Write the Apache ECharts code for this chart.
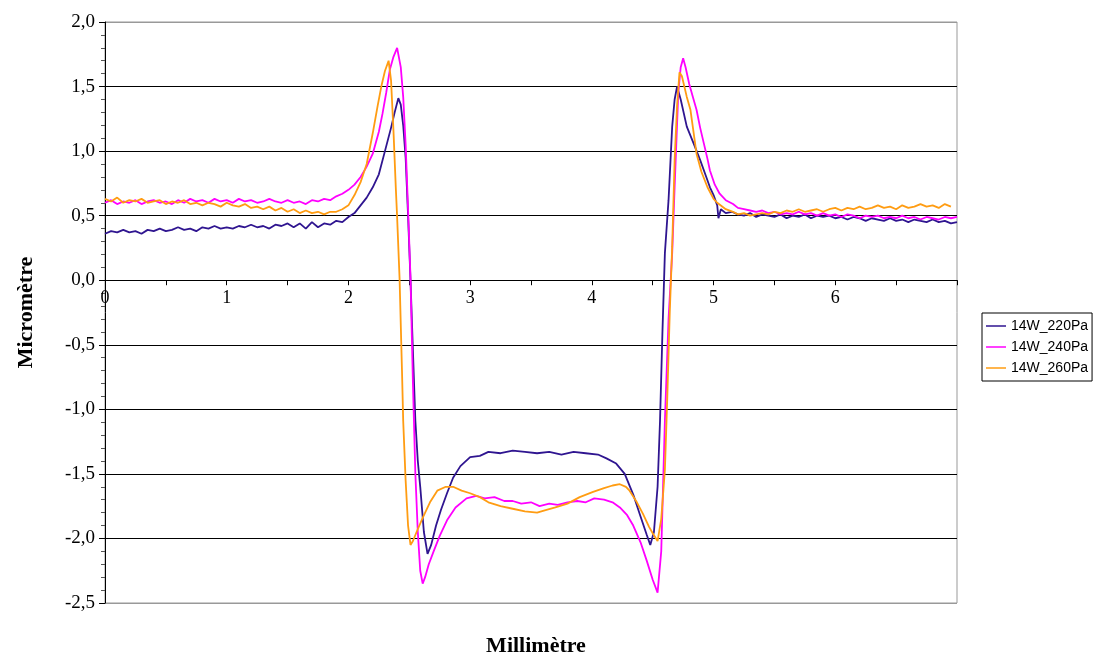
<!DOCTYPE html>
<html>
<head>
<meta charset="utf-8">
<script src="https://cdn.jsdelivr.net/npm/echarts@6/dist/echarts.min.js"></script>
<style>html,body{margin:0;padding:0;background:#fff}#c{width:1100px;height:658px}</style>
</head>
<body>
<div id="c"></div>
<script>
const seriesNames = ['14W_220Pa', '14W_240Pa', '14W_260Pa'];
const yTicks = [-2.5, -2.0, -1.5, -1.0, -0.5, 0, 0.5, 1.0, 1.5, 2.0];

const x220 = [0,0.05,0.1,0.15,0.2,0.25,0.3,0.35,0.4,0.45,0.5,0.55,0.6,0.65,0.7,0.75,0.8,0.85,0.9,0.95,1.0,1.05,1.1,1.15,1.2,1.25,1.3,1.35,1.4,1.45,1.5,1.55,1.6,1.65,1.7,1.75,1.8,1.85,1.9,1.95,2.0,2.05,2.1,2.15,2.2,2.25,2.3,2.35,2.38,2.41,2.43,2.45,2.47,2.49,2.51,2.53,2.55,2.57,2.59,2.62,2.65,2.68,2.72,2.76,2.81,2.86,2.92,3.0,3.08,3.15,3.25,3.35,3.45,3.55,3.65,3.75,3.85,3.95,4.05,4.12,4.2,4.27,4.34,4.4,4.45,4.48,4.51,4.54,4.56,4.58,4.6,4.63,4.66,4.68,4.7,4.73,4.78,4.84,4.89,4.94,4.97,5.0,5.03,5.04,5.06,5.1,5.15,5.2,5.25,5.3,5.35,5.4,5.45,5.5,5.55,5.6,5.65,5.7,5.75,5.8,5.85,5.9,5.95,6.0,6.05,6.1,6.15,6.2,6.25,6.3,6.35,6.4,6.45,6.5,6.55,6.6,6.65,6.7,6.75,6.8,6.85,6.9,6.95,7.0];
const y220 = [0.36,0.38,0.37,0.39,0.37,0.38,0.36,0.39,0.38,0.40,0.38,0.39,0.41,0.39,0.40,0.38,0.41,0.40,0.42,0.40,0.41,0.40,0.42,0.41,0.43,0.41,0.42,0.40,0.43,0.42,0.44,0.41,0.44,0.40,0.45,0.41,0.44,0.43,0.46,0.45,0.49,0.52,0.58,0.64,0.72,0.82,1.00,1.18,1.30,1.41,1.36,1.20,0.95,0.50,0.0,-0.55,-1.09,-1.40,-1.60,-1.95,-2.12,-2.05,-1.90,-1.78,-1.65,-1.53,-1.44,-1.37,-1.36,-1.33,-1.34,-1.32,-1.33,-1.34,-1.33,-1.35,-1.33,-1.34,-1.35,-1.38,-1.42,-1.50,-1.66,-1.83,-1.97,-2.05,-1.95,-1.60,-1.09,-0.40,0.21,0.62,1.19,1.40,1.50,1.40,1.19,1.05,0.93,0.80,0.72,0.66,0.58,0.48,0.55,0.52,0.53,0.51,0.50,0.52,0.49,0.51,0.50,0.49,0.51,0.48,0.50,0.49,0.51,0.48,0.50,0.49,0.50,0.48,0.49,0.47,0.49,0.48,0.46,0.48,0.47,0.46,0.48,0.46,0.47,0.45,0.47,0.46,0.45,0.47,0.45,0.46,0.44,0.45];

const x240 = [0,0.05,0.1,0.15,0.2,0.25,0.3,0.35,0.4,0.45,0.5,0.55,0.6,0.65,0.7,0.75,0.8,0.85,0.9,0.95,1.0,1.05,1.1,1.15,1.2,1.25,1.3,1.35,1.4,1.45,1.5,1.55,1.6,1.65,1.7,1.75,1.8,1.85,1.9,1.95,2.0,2.05,2.1,2.15,2.2,2.25,2.28,2.31,2.34,2.37,2.4,2.43,2.45,2.47,2.49,2.51,2.53,2.55,2.57,2.59,2.61,2.63,2.66,2.7,2.75,2.81,2.88,2.97,3.05,3.12,3.2,3.28,3.35,3.42,3.5,3.57,3.65,3.72,3.8,3.88,3.95,4.02,4.1,4.17,4.23,4.29,4.34,4.4,4.45,4.5,4.54,4.57,4.6,4.63,4.66,4.68,4.71,4.73,4.75,4.77,4.8,4.83,4.86,4.89,4.92,4.95,4.97,5.01,5.05,5.1,5.16,5.2,5.25,5.3,5.35,5.4,5.45,5.5,5.55,5.6,5.65,5.7,5.75,5.8,5.85,5.9,5.95,6.0,6.05,6.1,6.15,6.2,6.25,6.3,6.35,6.4,6.45,6.5,6.55,6.6,6.65,6.7,6.75,6.8,6.85,6.9,6.95,7.0];
const y240 = [0.60,0.62,0.59,0.61,0.60,0.62,0.59,0.61,0.62,0.60,0.61,0.59,0.62,0.60,0.63,0.61,0.62,0.60,0.63,0.61,0.62,0.60,0.63,0.61,0.62,0.60,0.61,0.63,0.61,0.60,0.62,0.60,0.61,0.59,0.62,0.61,0.63,0.62,0.65,0.67,0.70,0.74,0.80,0.88,0.98,1.15,1.29,1.45,1.63,1.73,1.80,1.65,1.42,1.05,0.55,0.02,-0.80,-1.50,-1.95,-2.25,-2.35,-2.30,-2.20,-2.10,-1.98,-1.86,-1.76,-1.69,-1.67,-1.69,-1.68,-1.71,-1.71,-1.73,-1.72,-1.75,-1.73,-1.74,-1.72,-1.71,-1.72,-1.69,-1.70,-1.72,-1.76,-1.82,-1.90,-2.03,-2.17,-2.32,-2.42,-2.10,-1.09,-0.30,0.21,0.72,1.45,1.65,1.72,1.65,1.52,1.42,1.32,1.18,1.06,0.94,0.85,0.74,0.67,0.62,0.59,0.56,0.55,0.54,0.53,0.54,0.52,0.53,0.51,0.52,0.51,0.53,0.51,0.52,0.50,0.52,0.50,0.51,0.49,0.51,0.50,0.48,0.50,0.49,0.50,0.48,0.49,0.48,0.50,0.48,0.49,0.47,0.49,0.48,0.47,0.49,0.48,0.49];

const x260 = [0,0.05,0.1,0.15,0.2,0.25,0.3,0.35,0.4,0.45,0.5,0.55,0.6,0.65,0.7,0.75,0.8,0.85,0.9,0.95,1.0,1.05,1.1,1.15,1.2,1.25,1.3,1.35,1.4,1.45,1.5,1.55,1.6,1.65,1.7,1.75,1.8,1.85,1.9,1.95,2.0,2.05,2.1,2.15,2.2,2.24,2.27,2.3,2.33,2.35,2.37,2.39,2.4,2.42,2.44,2.45,2.47,2.49,2.51,2.53,2.56,2.61,2.67,2.73,2.8,2.86,2.93,3.0,3.08,3.15,3.25,3.35,3.45,3.55,3.62,3.7,3.8,3.9,4.01,4.1,4.17,4.23,4.28,4.31,4.37,4.42,4.47,4.5,4.54,4.57,4.6,4.62,4.64,4.66,4.68,4.7,4.72,4.74,4.78,4.81,4.86,4.9,4.95,5.0,5.03,5.1,5.16,5.2,5.25,5.3,5.35,5.4,5.45,5.5,5.55,5.6,5.65,5.7,5.75,5.8,5.85,5.9,5.95,6.0,6.05,6.1,6.15,6.2,6.25,6.3,6.35,6.4,6.45,6.5,6.55,6.6,6.65,6.7,6.75,6.8,6.85,6.9,6.95];
const y260 = [0.63,0.61,0.64,0.60,0.62,0.61,0.63,0.60,0.61,0.62,0.59,0.61,0.60,0.62,0.59,0.60,0.58,0.60,0.59,0.57,0.60,0.58,0.57,0.59,0.56,0.57,0.55,0.57,0.54,0.56,0.53,0.55,0.52,0.54,0.52,0.53,0.51,0.53,0.53,0.55,0.58,0.66,0.76,0.90,1.14,1.35,1.50,1.62,1.70,1.55,1.16,0.70,0.49,0.02,-0.70,-1.09,-1.55,-1.90,-2.05,-2.02,-1.95,-1.84,-1.72,-1.63,-1.60,-1.60,-1.63,-1.65,-1.68,-1.72,-1.75,-1.77,-1.79,-1.80,-1.78,-1.76,-1.73,-1.68,-1.64,-1.61,-1.59,-1.58,-1.60,-1.63,-1.72,-1.81,-1.91,-1.96,-2.02,-1.85,-1.47,-0.90,-0.25,0.26,0.93,1.35,1.61,1.58,1.42,1.32,0.98,0.84,0.72,0.63,0.60,0.55,0.53,0.51,0.52,0.50,0.51,0.52,0.51,0.53,0.52,0.54,0.53,0.55,0.53,0.54,0.55,0.53,0.55,0.56,0.54,0.56,0.55,0.57,0.55,0.56,0.58,0.56,0.57,0.55,0.58,0.56,0.57,0.59,0.57,0.58,0.56,0.59,0.57];

const colors = ['#2f1590', '#ff00ff', '#ff9c12'];
const xs = [x220, x240, x260];
const ys = [y220, y240, y260];

const splitColors = yTicks.map((v, i) => (i === 0 || i === yTicks.length - 1) ? '#999' : '#000');

const chart = echarts.init(document.getElementById('c'), null, {renderer: 'canvas'});
const gridTop = 22, gridBottom = 55, H = 658;
const plotH = H - gridTop - gridBottom;
// distance from bottom edge of grid to the y=0 level (through the y scale)
const zeroOffset = plotH * (0 - yTicks[0]) / (yTicks[yTicks.length - 1] - yTicks[0]);

chart.setOption({
  animation: false,
  backgroundColor: '#fff',
  title: {
    text: 'Millimètre', left: 531, top: 630, textAlign: 'center',
    textStyle: {fontFamily: 'Liberation Serif', fontWeight: 'bold', fontSize: 22, color: '#000'}
  },
  grid: {left: 105, top: gridTop, right: 143, bottom: gridBottom, show: true, borderColor: '#999', borderWidth: 1},
  legend: {
    orient: 'vertical', left: 982, top: 313,
    borderColor: '#000', borderWidth: 1, padding: [6, 4, 6, 4],
    icon: 'rect', itemWidth: 20, itemHeight: 1.5, itemGap: 7,
    textStyle: {fontFamily: 'Liberation Sans', fontSize: 14, color: '#000'},
    data: seriesNames
  },
  xAxis: {
    type: 'value', min: 0, max: 7, interval: 1,
    offset: -zeroOffset,
    axisLine: {onZero: false, lineStyle: {color: '#000', width: 1}},
    axisTick: {show: true, length: 5, lineStyle: {color: '#000'}},
    minorTick: {show: true, splitNumber: 2, length: 5, lineStyle: {color: '#000'}},
    axisLabel: {fontFamily: 'Liberation Serif', fontSize: 18, color: '#000', margin: 9,
      formatter: v => v >= 7 ? '' : String(v)},
    splitLine: {show: false}
  },
  yAxis: {
    type: 'value', min: -2.5, max: 2, interval: 0.5,
    name: 'Micromètre', nameLocation: 'middle', nameGap: 68,
    nameTextStyle: {fontFamily: 'Liberation Serif', fontWeight: 'bold', fontSize: 22, color: '#000'},
    axisLine: {show: true, onZero: false, lineStyle: {color: '#000', width: 1}},
    axisTick: {show: true, length: 6, lineStyle: {color: '#000'}},
    minorTick: {show: true, splitNumber: 5, length: 4, lineStyle: {color: '#555'}},
    axisLabel: {fontFamily: 'Liberation Serif', fontSize: 19, color: '#000', margin: 10,
      formatter: v => v.toFixed(1).replace('.', ',')},
    splitLine: {show: true, lineStyle: {color: splitColors, width: 1}}
  },
  series: seriesNames.map((n, i) => ({
    name: n, type: 'line', symbol: 'none', smooth: false,
    lineStyle: {color: colors[i], width: 1.8},
    itemStyle: {color: colors[i]},
    data: xs[i].map((x, j) => [x, ys[i][j]])
  }))
});
</script>
</body>
</html>
